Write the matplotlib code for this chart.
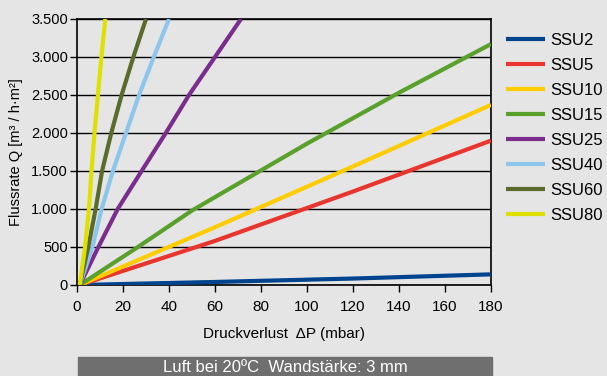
import matplotlib
matplotlib.use("Agg")
import matplotlib.pyplot as plt

plt.rcParams['font.family'] = ['Liberation Sans', 'DejaVu Sans']

# druckverlust (mbar) / flussrate (m3/h.m2)
names = ["SSU2", "SSU5", "SSU10", "SSU15", "SSU25", "SSU40", "SSU60", "SSU80"]
colors = ["#00448e", "#e8352e", "#ffcc00", "#5aa02c", "#7b2d8e", "#8cc6ec", "#5a6b2b", "#e0e000"]

ssu2_x = [1.2, 60, 120, 180]
ssu2_y = [0, 40, 85, 140]
ssu5_x = [1.2, 60, 120, 180]
ssu5_y = [0, 580, 1230, 1900]
ssu10_x = [1.2, 60, 120, 180]
ssu10_y = [0, 760, 1560, 2370]
ssu15_x = [1.2, 26.5, 50, 100, 140, 180]
ssu15_y = [0, 500, 980, 1860, 2530, 3170]
ssu25_x = [1.2, 9.3, 17.7, 28.1, 38.6, 48.7, 60, 71.3]
ssu25_y = [0, 500, 1000, 1500, 2000, 2500, 3000, 3500]
ssu40_x = [1.2, 6.7, 10.7, 15.6, 21.3, 27, 33.4, 40]
ssu40_y = [0, 500, 1000, 1500, 2000, 2500, 3000, 3500]
ssu60_x = [1.2, 4.9, 8.1, 10.9, 14.9, 19.4, 24.5, 30]
ssu60_y = [0, 500, 1000, 1500, 2000, 2500, 3000, 3500]
ssu80_x = [1.2, 3.5, 5.2, 6.3, 7.6, 10.6, 12.3]
ssu80_y = [0, 500, 1000, 1500, 2000, 3000, 3500]

series_x = [ssu2_x, ssu5_x, ssu10_x, ssu15_x, ssu25_x, ssu40_x, ssu60_x, ssu80_x]
series_y = [ssu2_y, ssu5_y, ssu10_y, ssu15_y, ssu25_y, ssu40_y, ssu60_y, ssu80_y]

x_ticks = list(range(0, 181, 20))
y_ticks = list(range(0, 3501, 500))
y_labels = ["0", "500", "1.000", "1.500", "2.000", "2.500", "3.000", "3.500"]

bg = "#e5e5e5"
fig = plt.figure(figsize=(6.07, 3.76), dpi=100, facecolor=bg)
ax = fig.add_axes([77/607, 1 - 285/376, 414/607, 266/376])
ax.set_facecolor(bg)

for yt in y_ticks:
    ax.axhline(yt, color="black", lw=1, zorder=1)

for x, y, c, n in zip(series_x, series_y, colors, names):
    ax.plot(x, y, color=c, lw=3, label=n, zorder=3, solid_capstyle="butt")

ax.set_xlim(0, 180)
ax.set_ylim(0, 3500)
ax.set_xticks(x_ticks)
ax.set_yticks(y_ticks)
ax.set_yticklabels(y_labels)
ax.tick_params(axis="x", labelsize=11, length=5, width=1, color="black", pad=6)
ax.tick_params(axis="y", labelsize=10.5, length=5, width=1, color="black", pad=1.5)
for s in ax.spines.values():
    s.set_color("black")
    s.set_linewidth(1.2)

ax.set_xlabel("Druckverlust  \u0394P (mbar)", fontsize=11, labelpad=9)
ax.set_ylabel("Flussrate Q [m\u00b3 / h\u00b7m\u00b2]", fontsize=10.5, labelpad=6)

leg = fig.legend(loc="upper left", bbox_to_anchor=(506/607, 1 - 33/376), frameon=False,
                 fontsize=12, handlelength=2.35, handletextpad=0.3, labelspacing=0.6,
                 borderaxespad=0, borderpad=0)

# grauer kasten unten
fig.patches.append(plt.Rectangle((78/607, 0), 414/607, 19/376, transform=fig.transFigure,
                                 color="#6f6f6f", zorder=0))
fig.text(285/607, 8/376, "Luft bei 20\u00baC  Wandst\u00e4rke: 3 mm", color="white",
         fontsize=12, ha="center", va="center")

fig.savefig("out.png", dpi=100, facecolor=bg)
